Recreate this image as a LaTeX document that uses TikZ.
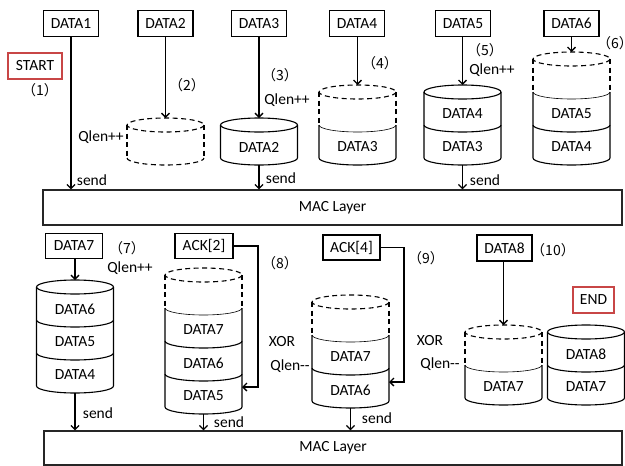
\documentclass[tikz,border=0pt]{standalone}
\usepackage{fontspec}
\setmainfont{Carlito}
\newfontfamily\cjkfont{Noto Sans CJK SC}
\usetikzlibrary{arrows.meta}
\definecolor{boxred}{RGB}{200,70,70}
\newcommand\mytfont{\fontsize{15.5}{17}\selectfont}
\newcommand\mynfont{\cjkfont\fontsize{14}{16}\selectfont}
\newcommand\cyltop[3]{\draw[cyl,#3] (#1,#2) ellipse (38.5 and 7);}
\newcommand\cylseg[4]{%
  \draw[cyl] (#2-38.5,#3) -- (#2-38.5,#3+33) arc (180:0:38.5 and 7) -- (#2+38.5,#3);
  \node[lbl] (#1) at (#2,#3+22) {#4};}
\newcommand\cylempty[3]{%
  \draw[cyl,dsh] (#1-38.5,#2) -- ++(0,33);
  \draw[cyl,dsh] (#1+38.5,#2) -- ++(0,33);
  \draw[cyl,#3] (#1-38.5,#2+33) arc (180:0:38.5 and 7);}
\begin{document}
\begin{tikzpicture}[x=1pt,y=-1pt,
  box/.style={draw, line width=1.3pt, inner sep=0pt, minimum width=55pt, minimum height=26pt, font=\mytfont},
  redbox/.style={box, draw=boxred},
  mac/.style={draw=black!85, line width=1.3pt, inner sep=0pt, font=\mytfont},
  arr/.style={line width=1.3pt, -{Straight Barb[length=4pt,width=8pt]}},
  cyl/.style={line width=1.1pt},
  dsh/.style={dash pattern=on 5pt off 3.5pt},
  thinl/.style={line width=0.6pt},
  lbl/.style={inner sep=0pt, font=\mytfont},
  num/.style={inner sep=0pt, font=\mynfont}]
\useasboundingbox (0,0) rectangle (625,466);

% MAC layers
\node[mac, minimum width=579pt, minimum height=35pt] (mac1) at (332.5,207.5) {MAC Layer};
\node[mac, minimum width=578pt, minimum height=34pt] (mac2) at (333,448) {MAC Layer};

% top row boxes
\node[box] (d1) at (71,23.5) {DATA1};
\node[box] (d2) at (165.5,23.5) {DATA2};
\node[box] (d3) at (259,23.5) {DATA3};
\node[box] (d4) at (357,23.5) {DATA4};
\node[box] (d5) at (463,23.5) {DATA5};
\node[box] (d6) at (571.5,23.5) {DATA6};
\node[redbox, minimum width=54pt] (start) at (35,66) {START};

% top row cylinders
\cyltop{165.5}{125}{dsh}
\cylempty{165.5}{125}{dsh}
\cyltop{259}{125}{}
\cylseg{c3a}{259}{125}{DATA2}
\cyltop{357.5}{92}{dsh}
\cylempty{357.5}{92}{thinl}
\cylseg{c4a}{357.5}{125}{DATA3}
\cyltop{462.5}{92}{}
\cylseg{c5a}{462.5}{92}{DATA4}
\cylseg{c5b}{462.5}{125}{DATA3}
\cyltop{571.5}{59}{dsh}
\cylempty{571.5}{59}{thinl}
\cylseg{c6a}{571.5}{92}{DATA5}
\cylseg{c6b}{571.5}{125}{DATA4}

\coordinate (c2top) at (165.5,118);
\coordinate (c3top) at (259,118);
\coordinate (c3bot) at (259,165);
\coordinate (c4top) at (357.5,85);
\coordinate (c5top) at (462.5,85);
\coordinate (c5bot) at (462.5,165);
\coordinate (c6top) at (571.5,52);

% top row arrows
\draw[arr] (d1.south) -- (d1.south |- mac1.north);
\draw[arr] (d2.south) -- (c2top);
\draw[arr] (d3.south) -- (c3top);
\draw[arr] (d4.south -| c4top) -- (c4top);
\draw[arr] (d5.south -| c5top) -- (c5top);
\draw[arr] (d6.south) -- (c6top);
\draw[arr] (c3bot) -- (c3bot |- mac1.north);
\draw[arr] (c5bot) -- (c5bot |- mac1.north);

% top row labels
\node[num] (n1) at (40,90) {（1）};
\node[num] (n2) at (187,85) {（2）};
\node[num] (n3) at (280,75) {（3）};
\node[num] (n4) at (380,63) {（4）};
\node[num] (n5) at (485,50) {（5）};
\node[num, anchor=east] (n6) at (624,43) {（6）\kern-9pt};
\node[lbl] (q1) at (101,137) {Qlen++};
\node[lbl] (q3) at (287,100) {Qlen++};
\node[lbl] (q5) at (492,70) {Qlen++};
\node[lbl] (s1) at (92,180) {send};
\node[lbl] (s3) at (281,178) {send};
\node[lbl] (s5) at (485,180) {send};

% bottom row boxes
\node[box, minimum width=57pt, minimum height=25pt] (d7) at (74,246) {DATA7};
\node[box, minimum width=58pt, minimum height=25pt] (ack2) at (204,246) {ACK[2]};
\node[box, minimum width=57pt, minimum height=25pt] (ack4) at (351.5,247.5) {ACK[4]};
\node[box, minimum width=55pt, minimum height=26pt] (d8) at (504.5,248) {DATA8};
\node[redbox, minimum width=41pt] (endb) at (593.5,300) {END};

% bottom row cylinders
\cyltop{75}{287}{}
\cylseg{c7a}{75}{287}{DATA6}
\cylseg{c7b}{75}{320}{DATA5}
\cylseg{c7c}{75}{353}{DATA4}
\cyltop{203.5}{275}{dsh}
\cylempty{203.5}{275}{thinl}
\cylseg{c8a}{203.5}{308}{DATA7}
\cylseg{c8b}{203.5}{341}{DATA6}
\cylseg{c8c}{203.5}{374}{DATA5}
\cyltop{350.5}{302}{dsh}
\cylempty{350.5}{302}{thinl}
\cylseg{c9a}{350.5}{335}{DATA7}
\cylseg{c9b}{350.5}{368}{DATA6}
\cyltop{503.5}{332}{dsh}
\cylempty{503.5}{332}{thinl}
\cylseg{c10a}{503.5}{365}{DATA7}
\cyltop{586}{332}{}
\cylseg{c11a}{586}{332}{DATA8}
\cylseg{c11b}{586}{365}{DATA7}

\coordinate (c7top) at (75,280);
\coordinate (c7bot) at (75,393);
\coordinate (c8in) at (242,387);
\coordinate (c8turn) at (258,387);
\coordinate (c8bot) at (203.5,414);
\coordinate (c9in) at (389,382);
\coordinate (c9turn) at (404,382);
\coordinate (c9bot) at (350.5,408);
\coordinate (c10top) at (503.5,325);

% bottom row arrows
\draw[arr] (d7.south -| c7top) -- (c7top);
\draw[arr] (c7bot) -- (c7bot |- mac2.north);
\draw[arr] (ack2.east) -| (c8turn) -- (c8in);
\draw[arr] (c8bot) -- (c8bot |- mac2.north);
\draw[arr] (ack4.east) -| (c9turn) -- (c9in);
\draw[arr] (c9bot) -- (c9bot |- mac2.north);
\draw[arr] (d8.south -| c10top) -- (c10top);

% bottom row labels
\node[num] (n7) at (127,248) {（7）};
\node[num] (n8) at (280,263) {（8）};
\node[num] (n9) at (426,258) {（9）};
\node[num] (n10) at (553,250) {（10）};
\node[lbl] (q7) at (130,268) {Qlen++};
\node[lbl] (x8) at (282,342) {XOR};
\node[lbl] (m8) at (290,366) {Qlen-{}-};
\node[lbl] (x9) at (430,341) {XOR};
\node[lbl] (m9) at (440,364) {Qlen-{}-};
\node[lbl] (s7) at (98,413) {send};
\node[lbl] (s8) at (229,422) {send};
\node[lbl] (s9) at (377,418) {send};
\end{tikzpicture}
\end{document}
